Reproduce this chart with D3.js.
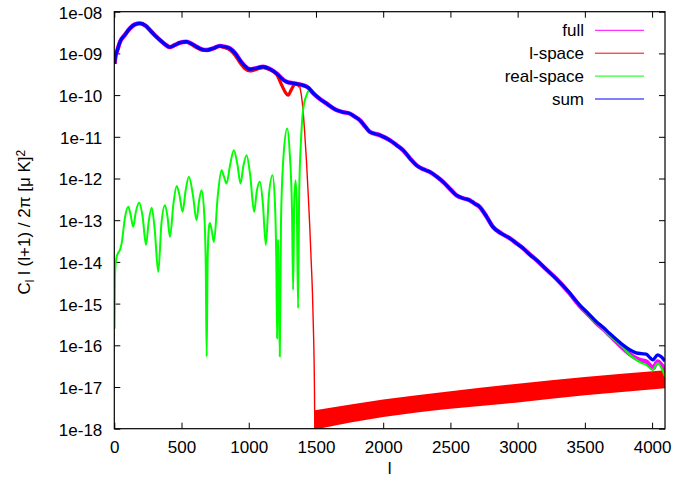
<!DOCTYPE html>
<html>
<head>
<meta charset="utf-8">
<script src="https://cdn.jsdelivr.net/npm/d3@7"></script>
<style>
  body { margin: 0; background: #fff; }
  text { font-family: "Liberation Sans", Arial, sans-serif; fill: #000; }
</style>
</head>
<body>
<div id="chart"></div>
<script>
// Data (stored as log10 of C_l l(l+1)/2pi) --------------------------------------------------------------
const sumEll = [2, 10, 20, 43, 80, 116, 150, 191, 230, 265, 300, 340, 380, 414, 450, 490, 538, 575, 612, 650, 687, 735, 785, 820, 860, 900, 934, 970, 1008, 1050, 1107, 1150, 1207, 1245, 1281, 1320, 1355, 1400, 1442, 1478, 1520, 1578, 1652, 1700, 1751, 1790, 1826, 1865, 1900, 1974, 2048, 2100, 2147, 2200, 2247, 2300, 2346, 2400, 2445, 2500, 2544, 2600, 2643, 2680, 2717, 2770, 2816, 2880, 2940, 2990, 3039, 3090, 3138, 3210, 3287, 3380, 3460, 3520, 3584, 3640, 3683, 3735, 3782, 3830, 3881, 3920, 3956, 3985, 4005, 4042, 4070, 4096];
const sumLog = [-9.25, -9.05, -8.95, -8.72, -8.55, -8.40, -8.31, -8.28, -8.33, -8.44, -8.56, -8.68, -8.79, -8.85, -8.80, -8.74, -8.72, -8.77, -8.84, -8.90, -8.92, -8.88, -8.82, -8.84, -8.88, -9.00, -9.16, -9.30, -9.38, -9.36, -9.32, -9.36, -9.48, -9.60, -9.68, -9.71, -9.73, -9.76, -9.82, -9.95, -10.07, -10.20, -10.36, -10.41, -10.44, -10.52, -10.60, -10.75, -10.88, -10.96, -11.08, -11.20, -11.32, -11.52, -11.68, -11.78, -11.84, -11.96, -12.08, -12.26, -12.40, -12.48, -12.52, -12.60, -12.68, -12.92, -13.16, -13.32, -13.43, -13.55, -13.67, -13.82, -13.95, -14.17, -14.40, -14.72, -15.03, -15.22, -15.43, -15.58, -15.71, -15.86, -15.99, -16.10, -16.18, -16.20, -16.21, -16.30, -16.35, -16.23, -16.28, -16.38];

const fullEll = sumEll;
const fullLog = [-9.25, -9.05, -8.95, -8.72, -8.55, -8.40, -8.31, -8.28, -8.33, -8.44, -8.56, -8.68, -8.79, -8.85, -8.80, -8.74, -8.72, -8.77, -8.84, -8.90, -8.92, -8.88, -8.82, -8.84, -8.88, -9.00, -9.16, -9.30, -9.38, -9.36, -9.32, -9.36, -9.48, -9.60, -9.68, -9.71, -9.73, -9.76, -9.82, -9.95, -10.07, -10.20, -10.36, -10.41, -10.44, -10.52, -10.60, -10.75, -10.88, -10.96, -11.08, -11.20, -11.32, -11.52, -11.68, -11.78, -11.84, -11.96, -12.08, -12.26, -12.40, -12.48, -12.52, -12.60, -12.68, -12.92, -13.16, -13.32, -13.43, -13.55, -13.67, -13.82, -13.95, -14.17, -14.40, -14.73, -15.05, -15.25, -15.46, -15.62, -15.76, -15.92, -16.07, -16.20, -16.31, -16.36, -16.39, -16.48, -16.55, -16.39, -16.47, -16.59];

// l-space: noisy part, then the steep drop, then the oscillating floor (upper / lower envelope)
const lspaceEll = [2, 10, 20, 43, 80, 116, 150, 191, 230, 265, 300, 340, 380, 414, 450, 490, 538, 575, 612, 650, 687, 735, 785, 820, 860, 900, 934, 970, 1008, 1050, 1107, 1150, 1207, 1245, 1270, 1293, 1315, 1340, 1355, 1380];
const lspaceLog = [-9.25, -9.05, -8.95, -8.72, -8.55, -8.40, -8.31, -8.28, -8.33, -8.44, -8.56, -8.68, -8.79, -8.85, -8.80, -8.74, -8.73, -8.79, -8.86, -8.92, -8.93, -8.89, -8.83, -8.86, -8.92, -9.05, -9.22, -9.36, -9.42, -9.39, -9.34, -9.38, -9.50, -9.76, -9.92, -10.00, -9.88, -9.74, -9.72, -9.80];
const dropEll = [1380, 1392, 1404, 1416, 1429, 1441, 1454, 1464, 1474, 1480, 1486, 1489, 1491, 1494];
const dropLog = [-9.80, -10.02, -10.36, -10.90, -11.56, -12.30, -13.16, -13.95, -14.75, -15.50, -16.35, -17.10, -17.95, -18.80];
const floorEll = [1492, 2000, 2500, 3000, 3500, 4096];
const floorLow = [-18.02, -17.72, -17.52, -17.37, -17.20, -17.03];
const floorHigh = [-17.56, -17.30, -17.10, -16.92, -16.76, -16.60];

const realEll = [2, 5, 10, 18, 30, 42, 55, 80, 104, 120, 141, 160, 186, 210, 236, 255, 278, 300, 327, 350, 377, 395, 414, 440, 464, 485, 508, 530, 555, 585, 612, 630, 649, 668, 680, 687, 694, 703, 711, 725, 741, 770, 798, 815, 835, 860, 889, 915, 939, 960, 984, 1010, 1040, 1060, 1083, 1105, 1127, 1150, 1177, 1195, 1205, 1211, 1214, 1218, 1222, 1231, 1240, 1260, 1286, 1305, 1322, 1330, 1338, 1348, 1357, 1367, 1375, 1390, 1404, 1430, 1454, 1478, 1520, 1578, 1652, 1700, 1751, 1790, 1826, 1865, 1900, 1974, 2048, 2100, 2147, 2200, 2247, 2300, 2346, 2400, 2445, 2500, 2544, 2600, 2643, 2680, 2717, 2770, 2816, 2880, 2940, 2990, 3039, 3090, 3138, 3210, 3287, 3380, 3460, 3520, 3584, 3640, 3683, 3735, 3782, 3830, 3881, 3920, 3956, 3985, 4005, 4042, 4070, 4096];
const realLog = [-15.6, -14.35, -14.05, -13.87, -13.78, -13.71, -13.55, -12.92, -12.68, -12.85, -13.16, -12.80, -12.58, -12.90, -13.59, -13.05, -12.70, -13.20, -14.24, -13.10, -12.64, -12.90, -13.40, -12.60, -12.18, -12.40, -12.80, -12.30, -11.96, -12.40, -13.00, -12.55, -12.28, -12.80, -14.00, -16.27, -14.00, -13.20, -13.07, -13.25, -13.52, -12.40, -11.80, -11.95, -12.12, -11.70, -11.32, -11.65, -12.12, -11.70, -11.44, -11.90, -12.80, -12.30, -12.08, -12.60, -13.59, -12.40, -11.92, -12.60, -14.00, -15.83, -14.00, -13.47, -14.20, -16.27, -13.00, -11.40, -10.80, -11.40, -12.80, -14.67, -12.60, -12.04, -12.60, -15.11, -12.40, -11.00, -10.36, -10.00, -9.88, -9.95, -10.07, -10.20, -10.36, -10.41, -10.44, -10.52, -10.60, -10.75, -10.88, -10.96, -11.08, -11.20, -11.32, -11.52, -11.68, -11.78, -11.84, -11.96, -12.08, -12.26, -12.40, -12.48, -12.52, -12.60, -12.68, -12.92, -13.16, -13.32, -13.43, -13.55, -13.67, -13.82, -13.95, -14.17, -14.40, -14.73, -15.05, -15.25, -15.46, -15.63, -15.78, -15.91, -16.05, -16.22, -16.35, -16.42, -16.47, -16.55, -16.59, -16.43, -16.55, -16.75];

const xTicks = [0, 500, 1000, 1500, 2000, 2500, 3000, 3500, 4000];
const yTickLabels = ["1e-18", "1e-17", "1e-16", "1e-15", "1e-14", "1e-13", "1e-12", "1e-11", "1e-10", "1e-09", "1e-08"];
const legendNames = ["full", "l-space", "real-space", "sum"];
const legendColors = ["#ff00ff", "#ff0000", "#00ff00", "#0000ff"];

// Graph Dimensions ---------------------------------------------------------------------------------------
const margin = {top: 11.7, right: 10, bottom: 50.3, left: 114.3},
      width = 675,
      height = 479,
      innerW = width - margin.left - margin.right,
      innerH = height - margin.top - margin.bottom,
      fontSize = "17px";

const svg = d3.select("#chart").append("svg")
.attr("width", width)
.attr("height", height);

const g = svg.append("g")
.attr("transform", `translate(${margin.left},${margin.top})`);

// Scales ---------------------------------------------------------------------------------------------------
const x = d3.scaleLinear().domain([0, 4096]).range([0, innerW]);
const y = d3.scaleLog().domain([1e-18, 1e-8]).range([innerH, 0]);
const yTickValues = yTickLabels.map(s => +s);

// Axes (ticks point inward, mirrored on top and right like gnuplot) --------------------------------------
g.append("g")
.attr("transform", `translate(0,${innerH})`)
.call(d3.axisBottom(x).tickValues(xTicks).tickSizeInner(-6).tickSizeOuter(0).tickPadding(12).tickFormat(d => String(d)))
.call(a => a.select(".domain").remove());

g.append("g")
.call(d3.axisTop(x).tickValues(xTicks).tickSizeInner(-6).tickSizeOuter(0).tickFormat(""))
.call(a => a.select(".domain").remove());

const yAxis = g.append("g")
.call(d3.axisLeft(y).tickValues(yTickValues).tickSizeInner(-6).tickSizeOuter(0).tickPadding(12)
  .tickFormat((d, i) => yTickLabels[i]))
.call(a => a.select(".domain").remove());
yAxis.selectAll(".tick text").attr("dy", "0.38em");

g.append("g")
.attr("transform", `translate(${innerW},0)`)
.call(d3.axisRight(y).tickValues(yTickValues).tickSizeInner(-6).tickSizeOuter(0).tickFormat(""))
.call(a => a.select(".domain").remove());

g.selectAll(".tick text").style("font-size", fontSize).style("font-family", "Liberation Sans, Arial, sans-serif");
g.selectAll(".tick line").attr("stroke", "#000");

// Curves ------------------------------------------------------------------------------------------------------
g.append("clipPath").attr("id", "clip")
.append("rect").attr("width", innerW).attr("height", innerH);

const plot = g.append("g").attr("clip-path", "url(#clip)");

const pts = (ell, lg) => ell.map((l, i) => ({l: l, v: Math.pow(10, lg[i])}));
const line = d3.line().curve(d3.curveMonotoneX).x(d => x(d.l)).y(d => y(d.v));

const floorPts = floorEll.map((l, i) => ({l: l, lo: Math.pow(10, floorLow[i]), hi: Math.pow(10, floorHigh[i])}));
const floorArea = d3.area().curve(d3.curveMonotoneX).x(d => x(d.l)).y0(d => y(d.lo)).y1(d => y(d.hi));

// full
plot.append("path").datum(pts(fullEll, fullLog))
.attr("d", line).attr("fill", "none").attr("stroke", legendColors[0]).attr("stroke-width", 4.4);

// l-space
plot.append("path").datum(pts(lspaceEll, lspaceLog))
.attr("d", line).attr("fill", "none").attr("stroke", legendColors[1]).attr("stroke-width", 3.2);
plot.append("path").datum(pts(dropEll, dropLog))
.attr("d", line).attr("fill", "none").attr("stroke", legendColors[1]).attr("stroke-width", 1.4);
plot.append("path").datum(floorPts)
.attr("d", floorArea).attr("fill", legendColors[1]);

// real-space
plot.append("path").datum(pts(realEll, realLog))
.attr("d", line).attr("fill", "none").attr("stroke", legendColors[2]).attr("stroke-width", 2)
.attr("stroke-linejoin", "round");

// sum
plot.append("path").datum(pts(sumEll, sumLog))
.attr("d", line).attr("fill", "none").attr("stroke", legendColors[3]).attr("stroke-width", 3.3);

// Border -------------------------------------------------------------------------------------------------------
g.append("rect")
.attr("width", innerW).attr("height", innerH)
.attr("fill", "none").attr("stroke", "#000").attr("stroke-width", 1.2);

// Legend -------------------------------------------------------------------------------------------------------
const legend = svg.append("g");
legendNames.forEach((name, i) => {
  const ly = 30.3 + i * 22.9;
  legend.append("text")
  .attr("x", 584).attr("y", ly).attr("dy", "0.35em")
  .attr("text-anchor", "end").style("font-size", fontSize)
  .text(name);
  legend.append("line")
  .attr("x1", 595).attr("x2", 644).attr("y1", ly).attr("y2", ly)
  .attr("stroke", legendColors[i]).attr("stroke-width", 1);
});

// Axis labels ------------------------------------------------------------------------------------------------
svg.append("text")
.attr("x", margin.left + innerW / 2).attr("y", 474)
.attr("text-anchor", "middle").style("font-size", fontSize)
.text("l");

const yl = svg.append("text")
.attr("transform", `translate(30,${margin.top + innerH / 2 + 2}) rotate(-90)`)
.attr("text-anchor", "middle").style("font-size", fontSize);
yl.append("tspan").text("C");
yl.append("tspan").attr("baseline-shift", "-30%").style("font-size", "12px").text("l");
yl.append("tspan").text(" l (l+1) / 2\u03c0 [\u03bc K]");
yl.append("tspan").attr("baseline-shift", "45%").style("font-size", "12px").text("2");
</script>
</body>
</html>
